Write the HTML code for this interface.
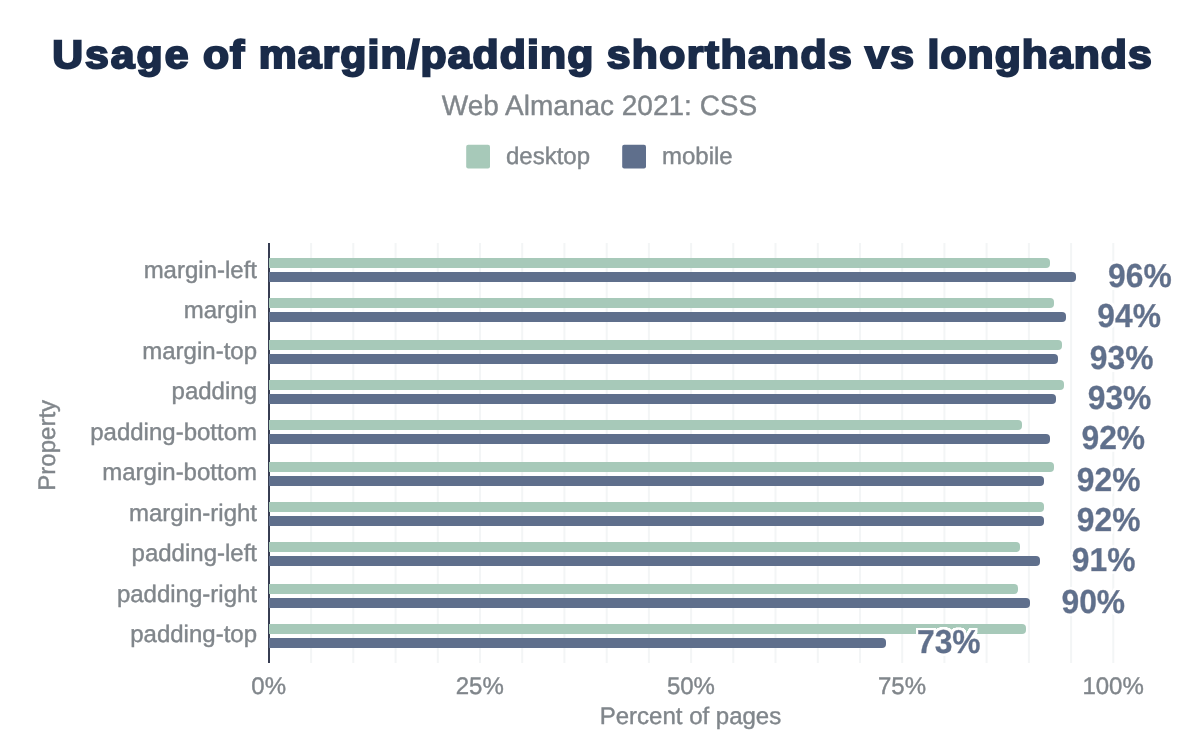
<!DOCTYPE html>
<html lang="en"><head><meta charset="utf-8"><title>Usage of margin/padding shorthands vs longhands</title>
<style>
html,body{margin:0;padding:0;background:#fff;}
body{width:1200px;height:742px;overflow:hidden;font-family:"Liberation Sans",Arial,sans-serif;}
svg{display:block;}
svg text{font-family:"Liberation Sans",Arial,sans-serif;text-rendering:geometricPrecision;}
.t{font-weight:700;fill:#1a2b49;stroke:#1a2b49;stroke-width:2.1px;stroke-linejoin:miter;}
.s{fill:#80868b;stroke:#80868b;stroke-width:0.4px;}
.v{font-weight:700;fill:#5f6f8c;stroke:#5f6f8c;stroke-width:0.45px;stroke-linejoin:round;filter:url(#halo);}
</style></head><body>
<svg width="1200" height="742" viewBox="0 0 1200 742">
<defs><filter id="halo" x="-10%" y="-20%" width="120%" height="140%"><feMorphology in="SourceAlpha" operator="dilate" radius="1.5" result="d"/><feGaussianBlur in="d" stdDeviation="0.5" result="b"/><feComponentTransfer in="b" result="a"><feFuncA type="linear" slope="3" intercept="0"/></feComponentTransfer><feFlood flood-color="#fff"/><feComposite in2="a" operator="in" result="w"/><feMerge><feMergeNode in="w"/><feMergeNode in="SourceGraphic"/></feMerge></filter></defs>
<rect width="1200" height="742" fill="#fff"/>
<text class="t" transform="translate(0,67.9) scale(1.08,1)" font-size="39.5"><tspan x="48.41" textLength="126.02" lengthAdjust="spacing">Usage</tspan> <tspan x="187.87" textLength="38.35" lengthAdjust="spacing">of</tspan> <tspan x="239.48" textLength="309.81" lengthAdjust="spacing">margin/padding</tspan> <tspan x="561.81" textLength="226.77" lengthAdjust="spacing">shorthands</tspan> <tspan x="801.02" textLength="45.28" lengthAdjust="spacing">vs</tspan> <tspan x="858.85" textLength="207.53" lengthAdjust="spacing">longhands</tspan></text>
<text class="s" x="599.5" y="114.8" font-size="28" text-anchor="middle">Web Almanac 2021: CSS</text>
<rect x="466.2" y="144.8" width="23.8" height="23.8" rx="2" fill="#a7c9b9"/>
<text class="s" x="506" y="164.4" font-size="24">desktop</text>
<rect x="622.2" y="144.8" width="23.8" height="23.8" rx="2" fill="#5f6f8c"/>
<text class="s" x="662" y="164.4" font-size="24">mobile</text>
<rect x="310.1" y="243" width="2" height="420" fill="#f3f5f6"/>
<rect x="352.3" y="243" width="2" height="420" fill="#f3f5f6"/>
<rect x="394.6" y="243" width="2" height="420" fill="#f3f5f6"/>
<rect x="436.8" y="243" width="2" height="420" fill="#f3f5f6"/>
<rect x="479.0" y="243" width="2" height="420" fill="#f3f5f6"/>
<rect x="521.2" y="243" width="2" height="420" fill="#f3f5f6"/>
<rect x="563.4" y="243" width="2" height="420" fill="#f3f5f6"/>
<rect x="605.7" y="243" width="2" height="420" fill="#f3f5f6"/>
<rect x="647.9" y="243" width="2" height="420" fill="#f3f5f6"/>
<rect x="690.1" y="243" width="2" height="420" fill="#f3f5f6"/>
<rect x="732.3" y="243" width="2" height="420" fill="#f3f5f6"/>
<rect x="774.5" y="243" width="2" height="420" fill="#f3f5f6"/>
<rect x="816.8" y="243" width="2" height="420" fill="#f3f5f6"/>
<rect x="859.0" y="243" width="2" height="420" fill="#f3f5f6"/>
<rect x="901.2" y="243" width="2" height="420" fill="#f3f5f6"/>
<rect x="943.4" y="243" width="2" height="420" fill="#f3f5f6"/>
<rect x="985.6" y="243" width="2" height="420" fill="#f3f5f6"/>
<rect x="1027.9" y="243" width="2" height="420" fill="#f3f5f6"/>
<rect x="1070.1" y="243" width="2" height="420" fill="#f3f5f6"/>
<rect x="1112.3" y="243" width="2" height="420" fill="#f3f5f6"/>
<rect x="268.1" y="243" width="1.8" height="420" fill="#222940"/>
<path d="M269.0 258 H1046.0 a4 4 0 0 1 4 4 v2 a4 4 0 0 1 -4 4 H269.0 Z" fill="#a7c9b9"/>
<path d="M269.0 272 H1072.0 a4 4 0 0 1 4 4 v2 a4 4 0 0 1 -4 4 H269.0 Z" fill="#5f6f8c"/>
<text class="s" x="257" y="277.70" font-size="24" text-anchor="end">margin-left</text>
<text class="v" transform="translate(1108.1,286.70) scale(1,1.045)" font-size="31.8">96%</text>
<path d="M269.0 298 H1050.0 a4 4 0 0 1 4 4 v2 a4 4 0 0 1 -4 4 H269.0 Z" fill="#a7c9b9"/>
<path d="M269.0 312 H1062.0 a4 4 0 0 1 4 4 v2 a4 4 0 0 1 -4 4 H269.0 Z" fill="#5f6f8c"/>
<text class="s" x="257" y="318.20" font-size="24" text-anchor="end">margin</text>
<text class="v" transform="translate(1097.3,326.70) scale(1,1.045)" font-size="31.8">94%</text>
<path d="M269.0 340 H1058.0 a4 4 0 0 1 4 4 v2 a4 4 0 0 1 -4 4 H269.0 Z" fill="#a7c9b9"/>
<path d="M269.0 354 H1054.0 a4 4 0 0 1 4 4 v2 a4 4 0 0 1 -4 4 H269.0 Z" fill="#5f6f8c"/>
<text class="s" x="257" y="358.70" font-size="24" text-anchor="end">margin-top</text>
<text class="v" transform="translate(1089.8,368.70) scale(1,1.045)" font-size="31.8">93%</text>
<path d="M269.0 380 H1060.0 a4 4 0 0 1 4 4 v2 a4 4 0 0 1 -4 4 H269.0 Z" fill="#a7c9b9"/>
<path d="M269.0 394 H1052.0 a4 4 0 0 1 4 4 v2 a4 4 0 0 1 -4 4 H269.0 Z" fill="#5f6f8c"/>
<text class="s" x="257" y="399.20" font-size="24" text-anchor="end">padding</text>
<text class="v" transform="translate(1087.7,408.70) scale(1,1.045)" font-size="31.8">93%</text>
<path d="M269.0 420 H1018.0 a4 4 0 0 1 4 4 v2 a4 4 0 0 1 -4 4 H269.0 Z" fill="#a7c9b9"/>
<path d="M269.0 434 H1046.0 a4 4 0 0 1 4 4 v2 a4 4 0 0 1 -4 4 H269.0 Z" fill="#5f6f8c"/>
<text class="s" x="257" y="439.70" font-size="24" text-anchor="end">padding-bottom</text>
<text class="v" transform="translate(1081.5,448.70) scale(1,1.045)" font-size="31.8">92%</text>
<path d="M269.0 462 H1050.0 a4 4 0 0 1 4 4 v2 a4 4 0 0 1 -4 4 H269.0 Z" fill="#a7c9b9"/>
<path d="M269.0 476 H1040.0 a4 4 0 0 1 4 4 v2 a4 4 0 0 1 -4 4 H269.0 Z" fill="#5f6f8c"/>
<text class="s" x="257" y="480.20" font-size="24" text-anchor="end">margin-bottom</text>
<text class="v" transform="translate(1076.8,490.70) scale(1,1.045)" font-size="31.8">92%</text>
<path d="M269.0 502 H1040.0 a4 4 0 0 1 4 4 v2 a4 4 0 0 1 -4 4 H269.0 Z" fill="#a7c9b9"/>
<path d="M269.0 516 H1040.0 a4 4 0 0 1 4 4 v2 a4 4 0 0 1 -4 4 H269.0 Z" fill="#5f6f8c"/>
<text class="s" x="257" y="520.70" font-size="24" text-anchor="end">margin-right</text>
<text class="v" transform="translate(1076.8,530.70) scale(1,1.045)" font-size="31.8">92%</text>
<path d="M269.0 542 H1016.0 a4 4 0 0 1 4 4 v2 a4 4 0 0 1 -4 4 H269.0 Z" fill="#a7c9b9"/>
<path d="M269.0 556 H1036.0 a4 4 0 0 1 4 4 v2 a4 4 0 0 1 -4 4 H269.0 Z" fill="#5f6f8c"/>
<text class="s" x="257" y="561.20" font-size="24" text-anchor="end">padding-left</text>
<text class="v" transform="translate(1071.8,570.70) scale(1,1.045)" font-size="31.8">91%</text>
<path d="M269.0 584 H1014.0 a4 4 0 0 1 4 4 v2 a4 4 0 0 1 -4 4 H269.0 Z" fill="#a7c9b9"/>
<path d="M269.0 598 H1026.0 a4 4 0 0 1 4 4 v2 a4 4 0 0 1 -4 4 H269.0 Z" fill="#5f6f8c"/>
<text class="s" x="257" y="601.70" font-size="24" text-anchor="end">padding-right</text>
<text class="v" transform="translate(1061.5,612.70) scale(1,1.045)" font-size="31.8">90%</text>
<path d="M269.0 624 H1022.0 a4 4 0 0 1 4 4 v2 a4 4 0 0 1 -4 4 H269.0 Z" fill="#a7c9b9"/>
<path d="M269.0 638 H882.0 a4 4 0 0 1 4 4 v2 a4 4 0 0 1 -4 4 H269.0 Z" fill="#5f6f8c"/>
<text class="s" x="257" y="642.20" font-size="24" text-anchor="end">padding-top</text>
<text class="v" transform="translate(917.0,652.70) scale(1,1.045)" font-size="31.8">73%</text>
<text class="s" x="268.7" y="693.6" font-size="24" text-anchor="middle">0%</text>
<text class="s" x="479.8" y="693.6" font-size="24" text-anchor="middle">25%</text>
<text class="s" x="690.9" y="693.6" font-size="24" text-anchor="middle">50%</text>
<text class="s" x="902.0" y="693.6" font-size="24" text-anchor="middle">75%</text>
<text class="s" x="1113.1" y="693.6" font-size="24" text-anchor="middle">100%</text>
<text class="s" x="690.5" y="724.4" font-size="24" text-anchor="middle">Percent of pages</text>
<text class="s" x="0" y="0" font-size="24" text-anchor="middle" transform="translate(54.6,445.3) rotate(-90)">Property</text>
</svg>
</body></html>
